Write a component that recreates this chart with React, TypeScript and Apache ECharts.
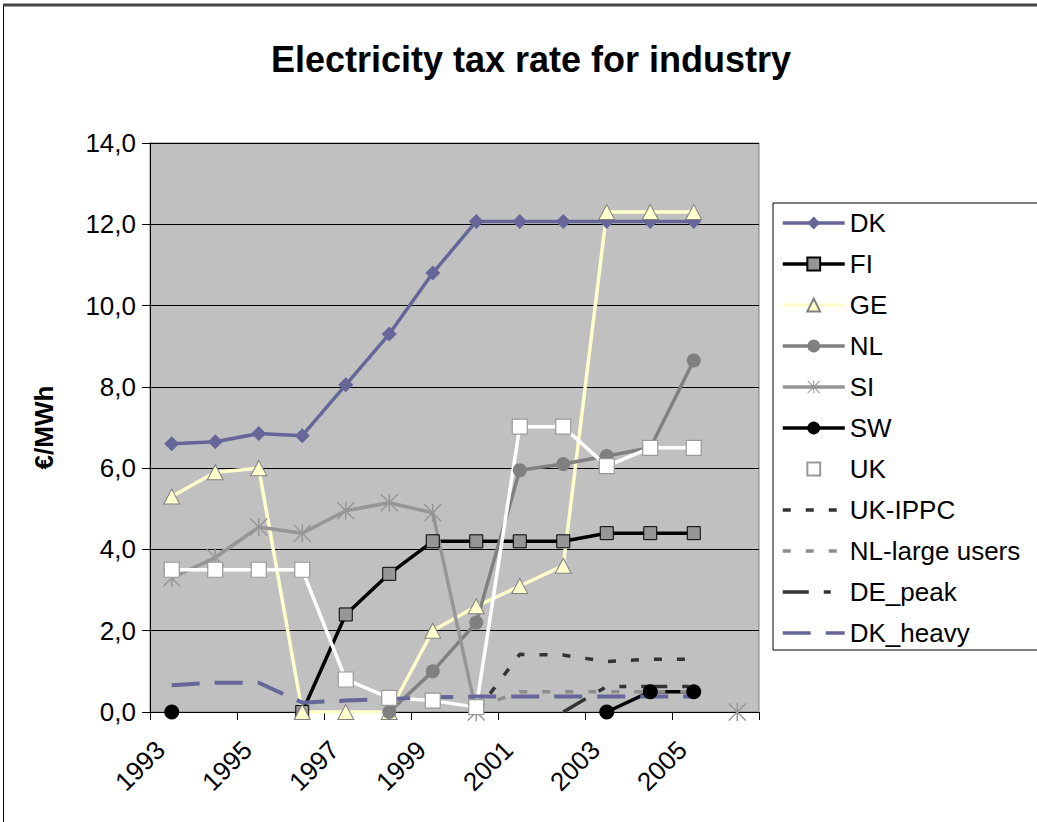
import React, { useEffect, useRef } from "react";
import * as echarts from "echarts";

// Years on the category axis (labels shown every second year)
const years = ["1993", "1994", "1995", "1996", "1997", "1998", "1999", "2000", "2001", "2002", "2003", "2004", "2005", "2006"];
const yTicks = [0, 2, 4, 6, 8, 10, 12, 14];

// Tax rates in €/MWh
const dk = [6.6, 6.65, 6.85, 6.8, 8.05, 9.3, 10.8, 12.07, 12.07, 12.07, 12.07, 12.07, 12.07, null];
const fi = [null, null, null, 0, 2.4, 3.4, 4.2, 4.2, 4.2, 4.2, 4.4, 4.4, 4.4, null];
const ge = [5.3, 5.9, 6.0, 0, 0, 0, 2.0, 2.6, 3.1, 3.6, 12.3, 12.3, 12.3, null];
const nl = [null, null, null, null, null, 0, 1.0, 2.2, 5.95, 6.1, 6.3, 6.5, 8.65, null];
const si = [3.3, 3.8, 4.55, 4.4, 4.95, 5.15, 4.9, 0, null, null, null, null, null, 0];
const sw = [0, null, null, null, null, null, null, null, null, null, 0, 0.5, 0.5, null];
const uk = [3.5, 3.5, 3.5, 3.5, 0.8, 0.35, 0.28, 0.12, 7.02, 7.02, 6.05, 6.5, 6.5, null];
const ukIppc = [null, null, null, null, null, null, null, 0, 1.42, 1.4, 1.24, 1.3, 1.3, null];
const nlLarge = [null, null, null, null, null, null, null, 0.1, 0.5, 0.5, 0.5, 0.5, 0.5, null];
const dePeak = [null, null, null, null, null, null, null, null, null, 0, 0.63, 0.63, 0.63, null];
const dkHeavy = [0.66, 0.72, 0.72, 0.23, 0.28, 0.32, 0.36, 0.38, 0.38, 0.38, 0.38, 0.38, 0.38, null];

const FONT = "'Liberation Sans', Arial, sans-serif";

// Asterisk marker: vertical bar plus two diagonals
const STAR =
  "path://M9.2 0H10.8V20H9.2Z M0 1.1L1.1 0L20 18.9L18.9 20Z M18.9 0L20 1.1L1.1 20L0 18.9Z";

const dashedNames = ["UK-IPPC", "NL-large users", "DE_peak", "DK_heavy"];
const legendNames = ["DK", "FI", "GE", "NL", "SI", "SW", "UK", ...dashedNames];

function markerLine(
  name: string,
  data: (number | null)[],
  color: string,
  symbol: string,
  symbolSize: number | number[],
  fill: string,
  border: string,
  borderWidth: number
) {
  return {
    name,
    type: "line",
    data,
    symbol,
    symbolSize,
    showSymbol: true,
    showAllSymbol: true,
    connectNulls: false,
    lineStyle: { color, width: 3.5 },
    itemStyle: { color: fill, borderColor: border, borderWidth },
    emphasis: { disabled: true },
  };
}

function dashLine(name: string, data: (number | null)[], color: string, dash: number[], width: number) {
  return {
    name,
    type: "line",
    data,
    symbol: "none",
    connectNulls: false,
    lineStyle: { color, width, type: dash },
    itemStyle: { color },
    emphasis: { disabled: true },
  };
}

export default function App() {
  const ref = useRef<HTMLDivElement>(null);

  useEffect(() => {
    if (!ref.current) return;
    const chart = echarts.init(ref.current, undefined, { renderer: "svg" });
    chart.setOption({
      animation: false,
      backgroundColor: "#ffffff",
      title: {
        text: "Electricity tax rate for industry",
        left: 526,
        top: 36,
        textAlign: "center",
        textStyle: { fontFamily: FONT, fontSize: 36, fontWeight: "bold", color: "#000" },
      },
      graphic: [
        {
          type: "rect",
          shape: { x: 3.5, y: 5, width: 1100, height: 900 },
          style: { fill: "none", stroke: "#000", lineWidth: 1 },
          silent: true,
        },
        {
          type: "line",
          shape: { x1: 3, y1: 5, x2: 1037, y2: 5 },
          style: { stroke: "#444", lineWidth: 3 },
          silent: true,
        },
      ],
      grid: {
        left: 150,
        top: 143,
        width: 609,
        height: 569,
        show: true,
        backgroundColor: "#C0C0C0",
        borderColor: "#808080",
        borderWidth: 1,
      },
      legend: {
        orient: "vertical",
        left: 773,
        top: 203,
        itemWidth: 62,
        itemHeight: 16,
        itemGap: 13,
        padding: [6, 60, 3, 8],
        backgroundColor: "#fff",
        borderColor: "#000",
        borderWidth: 1,
        lineStyle: { width: 3.5 },
        textStyle: { fontFamily: FONT, fontSize: 26, color: "#000", lineHeight: 28 },
        selectedMode: false,
        data: legendNames.map((n) =>
          dashedNames.includes(n)
            ? { name: n, itemStyle: { color: "rgba(0,0,0,0)", borderColor: "rgba(0,0,0,0)", borderWidth: 0 } }
            : { name: n }
        ),
      },
      xAxis: {
        type: "category",
        data: years,
        boundaryGap: true,
        axisLine: { lineStyle: { color: "#000", width: 1 } },
        axisTick: { show: true, length: 8, inside: false, lineStyle: { color: "#000" } },
        axisLabel: {
          interval: 1,
          rotate: 45,
          margin: 22,
          padding: [0, 16, 0, 0],
          color: "#000",
          fontFamily: FONT,
          fontSize: 26,
        },
        splitLine: { show: false },
      },
      yAxis: {
        type: "value",
        min: 0,
        max: 14,
        interval: 2,
        name: "€/MWh",
        nameLocation: "middle",
        nameRotate: 90,
        nameGap: 93,
        nameTextStyle: { fontFamily: FONT, fontSize: 26, fontWeight: "bold", color: "#000" },
        axisLine: { show: true, lineStyle: { color: "#000", width: 1 } },
        axisTick: { show: true, length: 8, inside: false, lineStyle: { color: "#000" } },
        axisLabel: {
          color: "#000",
          fontFamily: FONT,
          fontSize: 26,
          margin: 14,
          formatter: (v: number) => (yTicks.includes(v) ? v.toFixed(1).replace(".", ",") : ""),
        },
        splitLine: { show: true, lineStyle: { color: "#000", width: 1 } },
      },
      series: [
        markerLine("DK", dk, "#666699", "diamond", 15, "#666699", "#666699", 0),
        markerLine("FI", fi, "#000000", "rect", 13, "#969696", "#000000", 1),
        markerLine("GE", ge, "#FFFFCC", "triangle", [16, 15], "#FFFFCC", "#808080", 1),
        markerLine("NL", nl, "#808080", "circle", 14, "#808080", "#808080", 0),
        markerLine("SI", si, "#969696", STAR, 18, "#969696", "#969696", 0),
        markerLine("SW", sw, "#000000", "circle", 15, "#000000", "#000000", 0),
        markerLine("UK", uk, "#FFFFFF", "rect", 15, "#FFFFFF", "#999999", 1.2),
        dashLine("UK-IPPC", ukIppc, "#333333", [8, 15], 3.5),
        dashLine("NL-large users", nlLarge, "#8C8C8C", [8, 15], 3.5),
        dashLine("DE_peak", dePeak, "#333333", [26, 15, 7, 15, 7, 15], 3.5),
        dashLine("DK_heavy", dkHeavy, "#666699", [28, 15], 4),
      ],
    });
    return () => chart.dispose();
  }, []);

  return (
    <div
      ref={ref}
      style={{ position: "absolute", left: 0, top: 0, width: 1037, height: 822, background: "#fff" }}
    />
  );
}
